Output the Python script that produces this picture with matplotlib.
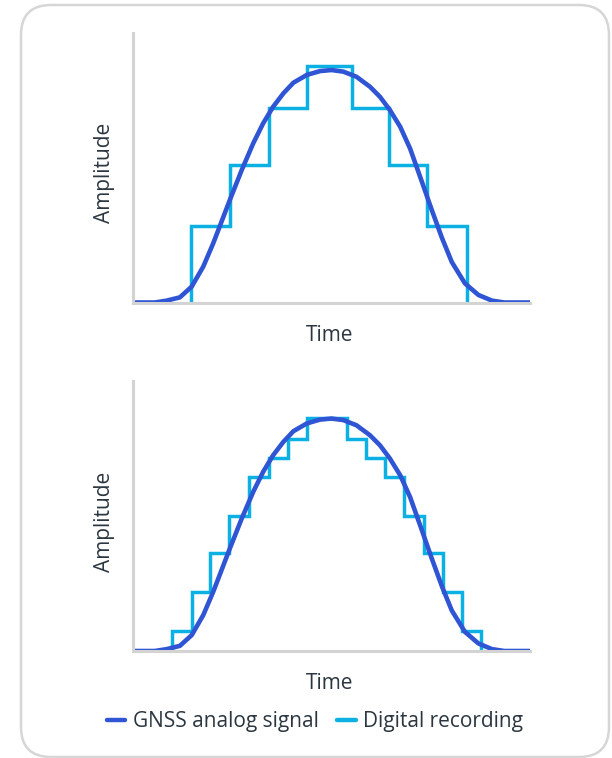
import matplotlib
matplotlib.use('Agg')
import matplotlib.pyplot as plt
from matplotlib.patches import FancyBboxPatch
from matplotlib.lines import Line2D

plt.rcParams['font.family'] = ['Open Sans', 'DejaVu Sans']

# analog signal (time 0-100, amplitude 0-1)
analog_t = [0, 5.5, 8.5, 11.8, 14.8, 17.7, 20.2, 21.9, 24.4, 27.4, 30.3, 32.8,
            35.3, 37.9, 40.4, 43.8, 47.1, 50.0, 53.0, 56.3, 59.7, 62.2, 64.7,
            67.3, 69.8, 72.7, 75.2, 77.8, 80.3, 83.6, 87.0, 90.4, 93.5, 100]
analog_a = [0, 0, 0.007, 0.019, 0.059, 0.133, 0.219, 0.284, 0.380, 0.491, 0.590, 0.664,
            0.725, 0.775, 0.814, 0.843, 0.857, 0.861, 0.855, 0.836, 0.799, 0.762, 0.713,
            0.651, 0.570, 0.450, 0.345, 0.240, 0.150, 0.071, 0.028, 0.007, 0, 0]

# coarse digital recording (top chart)
coarse_edges = [14.6, 24.4, 34.3, 43.8, 55.2, 64.5, 74.1, 84.1]
coarse_levels = [0.283, 0.509, 0.720, 0.876, 0.720, 0.509, 0.283]

# fine digital recording (bottom chart)
fine_edges = [9.9, 14.8, 19.4, 24.3, 29.2, 34.3, 39.0, 43.8,
              54.0, 58.7, 63.5, 68.3, 73.3, 78.2, 82.8, 87.7]
fine_levels = [0.075, 0.217, 0.362, 0.501, 0.646, 0.714, 0.785, 0.862,
               0.785, 0.714, 0.646, 0.501, 0.362, 0.217, 0.075]

analog_color = '#2f55d4'
digital_color = '#0cb1e3'
text_color = '#2b3640'
axis_color = '#d3d3d3'

fig = plt.figure(figsize=(6.12, 7.58), dpi=100)

# rounded card behind everything
card = FancyBboxPatch((0.21, 0.01), 5.88, 7.52, boxstyle='round,pad=0,rounding_size=0.3',
                      transform=fig.dpi_scale_trans, facecolor='white',
                      edgecolor='#d6d6d6', linewidth=1.8, zorder=-5)
fig.patches.append(card)

ax1 = fig.add_axes([133/612, 1 - 302.5/758, 397/612, 270/758])
ax2 = fig.add_axes([133/612, 1 - 651/758, 397/612, 270/758])

for ax, edges, levels in [(ax1, coarse_edges, coarse_levels), (ax2, fine_edges, fine_levels)]:
    ax.patch.set_visible(False)
    ax.plot(analog_t, analog_a, color=analog_color, lw=3.3, solid_capstyle='round',
            solid_joinstyle='round', zorder=3)
    ax.stairs(levels, edges, baseline=0, color=digital_color, lw=2.5, zorder=2)
    ax.set_xlim(0, 100)
    ax.set_ylim(0, 1)
    ax.spines['top'].set_visible(False)
    ax.spines['right'].set_visible(False)
    for s in ['left', 'bottom']:
        ax.spines[s].set_color(axis_color)
        ax.spines[s].set_linewidth(2.2)
        ax.spines[s].set_zorder(4)
    ax.set_xticks([])
    ax.set_yticks([])
    ax.set_xlabel('Time', fontsize=15, color=text_color)
    ax.set_ylabel('Amplitude', fontsize=15, color=text_color)
    ax.xaxis.set_label_coords(0.496, -0.082)
    ax.yaxis.set_label_coords(-0.045, 0.48)

# legend at the bottom
handles = [Line2D([], [], color=analog_color, lw=3.2, solid_capstyle='round'),
           Line2D([], [], color=digital_color, lw=3.2, solid_capstyle='round')]
fig.legend(handles, ['GNSS analog signal', 'Digital recording'], loc='center',
           bbox_to_anchor=(315/612, 1 - 721.7/758), ncol=2, frameon=False,
           fontsize=15, labelcolor=text_color, handlelength=0.9,
           handletextpad=0.35, columnspacing=0.9)

fig.savefig('out.png', dpi=100)
